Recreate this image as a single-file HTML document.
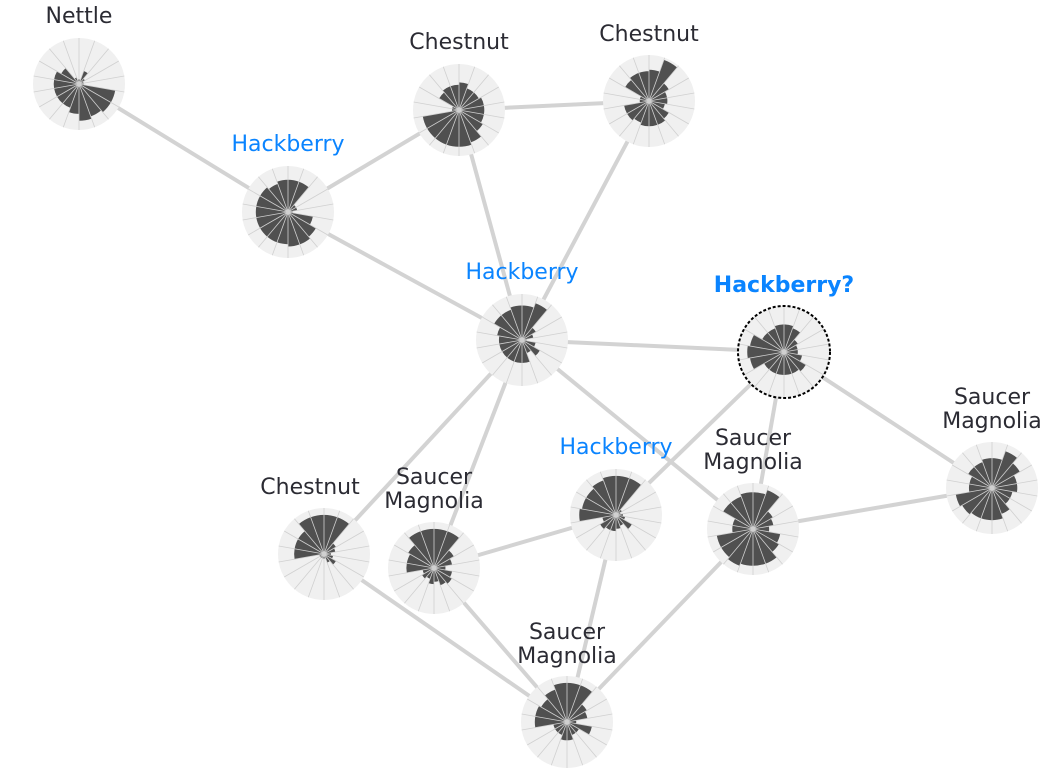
<!DOCTYPE html>
<html><head><meta charset="utf-8"><style>
html,body{margin:0;padding:0;background:#fff}
svg{display:block}
text{font-family:"DejaVu Sans","Liberation Sans",sans-serif;font-size:22px;fill:#2b2b33;text-anchor:middle}
.b{fill:#0a84ff}
</style></head><body>
<svg id="s" width="1049" height="781" viewBox="0 0 1049 781" xmlns="http://www.w3.org/2000/svg">
<g id="edges" stroke="#d3d3d3" stroke-width="4" fill="none"></g>
<g id="nodes"></g>
<text x="79" y="23">Nettle</text>
<text x="288" y="151" class="b">Hackberry</text>
<text x="459" y="49">Chestnut</text>
<text x="649" y="41">Chestnut</text>
<text x="522" y="279" class="b">Hackberry</text>
<text x="784" y="292" class="b" style="font-weight:bold">Hackberry?</text>
<text x="310" y="494">Chestnut</text>
<text x="434" y="484">Saucer</text><text x="434" y="508">Magnolia</text>
<text x="616" y="454" class="b">Hackberry</text>
<text x="753" y="445">Saucer</text><text x="753" y="469">Magnolia</text>
<text x="992" y="404">Saucer</text><text x="992" y="428">Magnolia</text>
<text x="567" y="639">Saucer</text><text x="567" y="663">Magnolia</text>
</svg>
<script>
var N={
nettle:[79,84,[.1,.3,.15,.1,.1,.8,.8,.75,.8,.65,.55,.55,.55,.55,.55,.45,.15,.1]],
h1:[288,212,[.7,.7,.2,.2,.1,.55,.7,.75,.75,.7,.7,.7,.7,.7,.7,.7,.65,.7]],
c1:[459,110,[.6,.5,.5,.55,.55,.55,.6,.75,.8,.8,.8,.8,.8,.15,.15,.5,.55,.55]],
c2:[649,101,[.68,.95,.5,.4,.4,.35,.5,.55,.55,.55,.5,.55,.55,.2,.2,.6,.65,.65]],
h2:[522,340,[.75,.85,.35,.25,.1,.3,.45,.3,.5,.5,.5,.5,.5,.5,.55,.7,.7,.75]],
hq:[784,352,[.6,.55,.35,.3,.3,.4,.55,.5,.5,.5,.5,.5,.75,.8,.75,.55,.55,.6]],
c3:[324,554,[.85,.85,.3,.25,.15,.2,.3,.2,.1,.1,.1,.1,.1,.65,.65,.65,.85,.85]],
s1:[434,568,[.85,.85,.5,.4,.25,.4,.45,.4,.3,.35,.25,.3,.25,.6,.6,.65,.85,.85]],
h3:[616,515,[.85,.85,.15,.1,.15,.2,.4,.25,.3,.35,.35,.4,.3,.8,.75,.75,.8,.85]],
s2:[753,529,[.8,.9,.5,.45,.35,.6,.65,.8,.8,.8,.85,.8,.8,.45,.45,.75,.75,.8]],
s3:[992,488,[.65,.85,.7,.55,.55,.45,.45,.6,.7,.7,.7,.75,.8,.5,.5,.6,.6,.65]],
s4:[567,722,[.85,.85,.5,.45,.2,.55,.3,.3,.4,.4,.3,.3,.3,.7,.7,.65,.75,.85]]};
var E=[["nettle","h1"],["h1","c1"],["h1","h2"],["c1","c2"],["c1","h2"],["c2","h2"],["h2","hq"],["h2","c3"],["h2","s1"],["h2","s2"],["hq","h3"],["hq","s2"],["hq","s3"],["s2","s3"],["h3","s1"],["h3","s4"],["s2","s4"],["c3","s4"],["s1","s4"]];
var ns="http://www.w3.org/2000/svg",eg=document.getElementById("edges"),ng=document.getElementById("nodes");
function el(t,a,p){var e=document.createElementNS(ns,t);for(var k in a)e.setAttribute(k,a[k]);p.appendChild(e);return e;}
E.forEach(function(e){var a=N[e[0]],b=N[e[1]];el("line",{x1:a[0],y1:a[1],x2:b[0],y2:b[1]},eg);});
var R=46,S=18,W=360/S;
for(var k in N){var n=N[k],cx=n[0],cy=n[1];
el("circle",{cx:cx,cy:cy,r:R,fill:"#f0f0f0"},ng);
var d="";
for(var i=0;i<S;i++){var r=R*n[2][i],a0=(i*W-90)*Math.PI/180,a1=((i+1)*W-90)*Math.PI/180;
d+="M"+cx+","+cy+"L"+(cx+r*Math.cos(a0)).toFixed(1)+","+(cy+r*Math.sin(a0)).toFixed(1)+"A"+r+","+r+" 0 0 1 "+(cx+r*Math.cos(a1)).toFixed(1)+","+(cy+r*Math.sin(a1)).toFixed(1)+"Z";}
el("path",{d:d,fill:"#505050"},ng);
var g="";for(var i=0;i<S;i++){var a=(i*W-90)*Math.PI/180;g+="M"+cx+","+cy+"L"+(cx+R*Math.cos(a)).toFixed(1)+","+(cy+R*Math.sin(a)).toFixed(1);}
el("path",{d:g,stroke:"#d0d0d0","stroke-width":"0.8",fill:"none"},ng);
if(k=="hq")el("circle",{cx:cx,cy:cy,r:R,fill:"none",stroke:"#000","stroke-width":"2","stroke-dasharray":"3,2"},ng);
}
</script>
</body></html>
